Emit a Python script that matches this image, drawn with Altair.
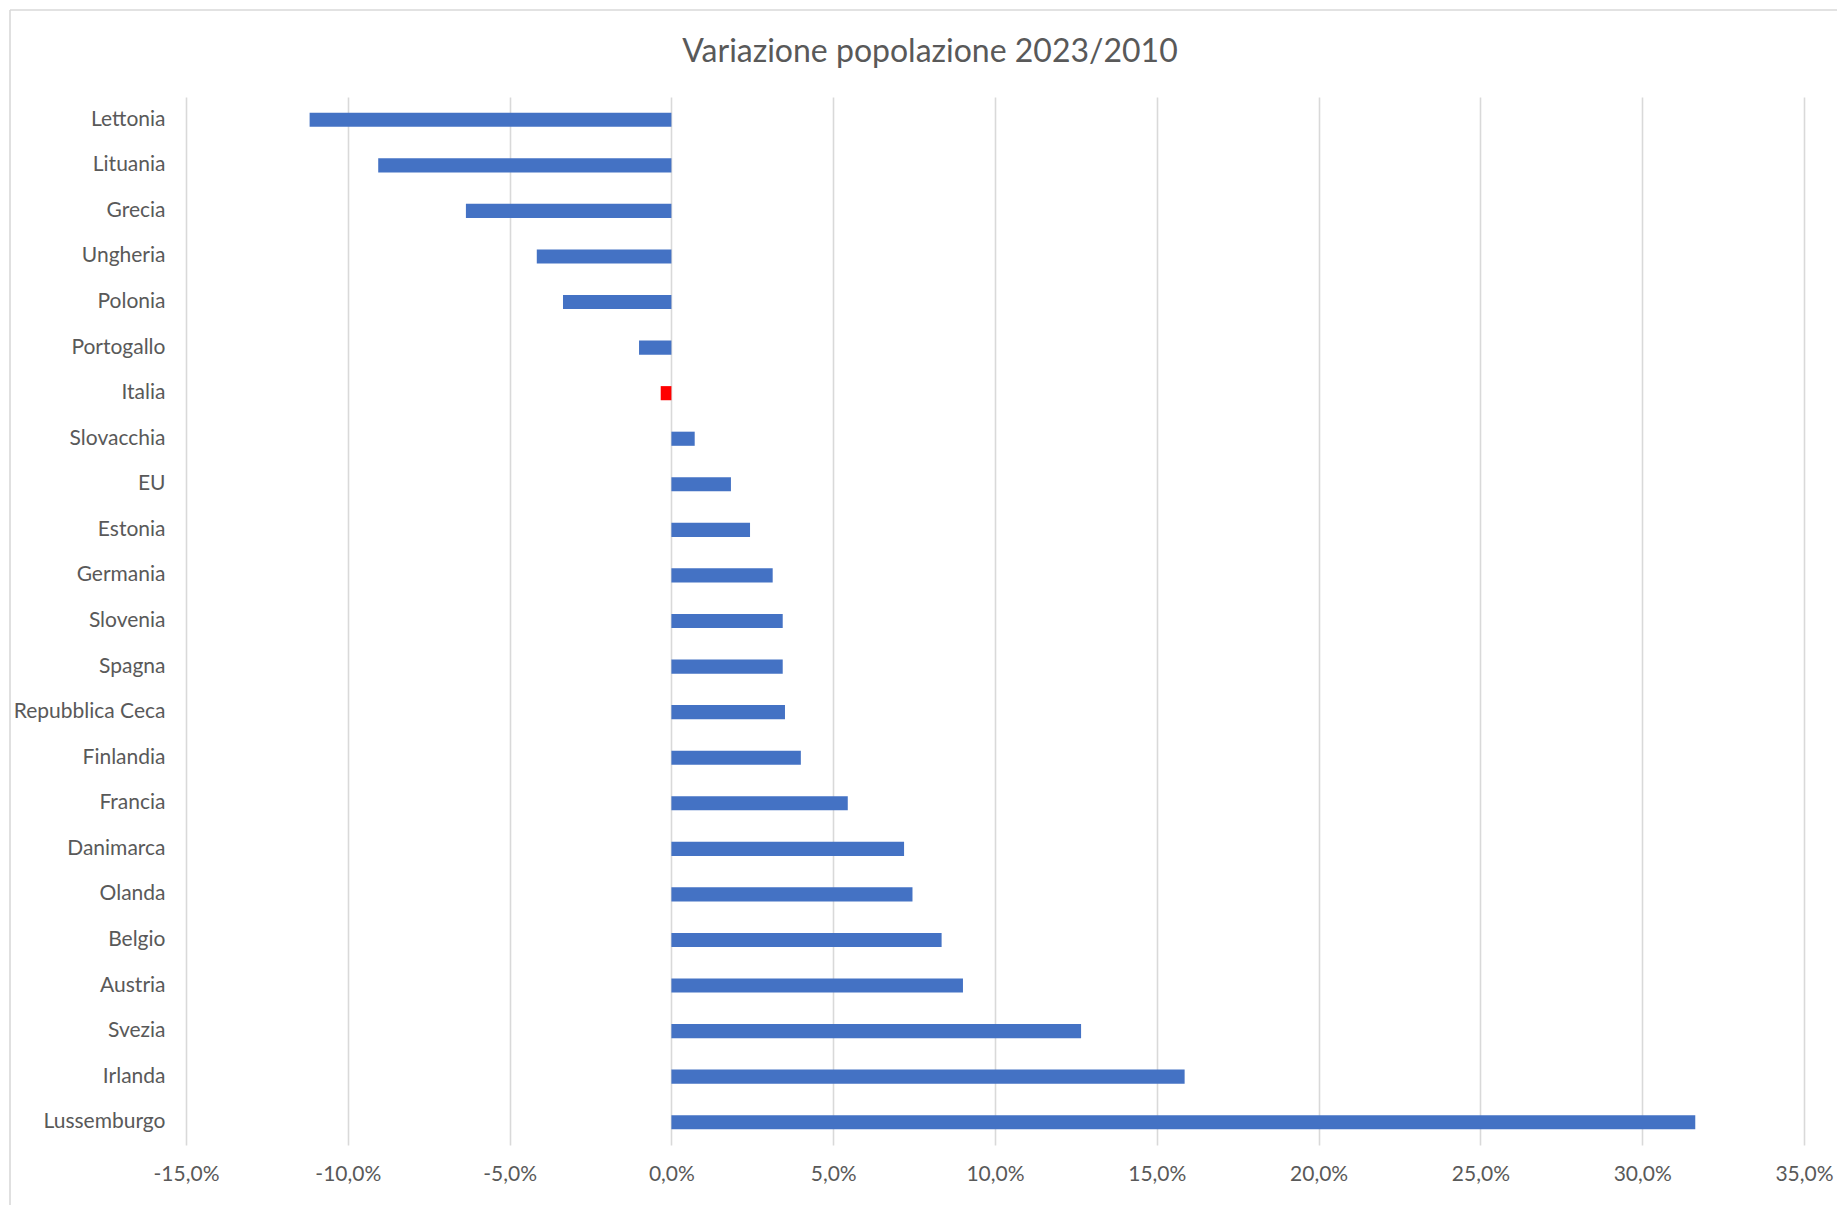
import altair as alt
import pandas as pd

# Variazione percentuale della popolazione 2023 rispetto al 2010
paesi = [
    "Lettonia", "Lituania", "Grecia", "Ungheria", "Polonia", "Portogallo",
    "Italia", "Slovacchia", "EU", "Estonia", "Germania", "Slovenia", "Spagna",
    "Repubblica Ceca", "Finlandia", "Francia", "Danimarca", "Olanda", "Belgio",
    "Austria", "Svezia", "Irlanda", "Lussemburgo",
]
variazione_pct = [
    -11.18, -9.06, -6.35, -4.16, -3.35, -1.00,
    -0.33, 0.72, 1.84, 2.43, 3.13, 3.44, 3.44,
    3.51, 4.00, 5.45, 7.19, 7.45, 8.35,
    9.01, 12.66, 15.86, 31.64,
]
tick_valori = [-0.15, -0.10, -0.05, 0.0, 0.05, 0.10, 0.15, 0.20, 0.25, 0.30, 0.35]
titolo = "Variazione popolazione 2023/2010"

df = pd.DataFrame({"paese": paesi, "variazione": [v / 100 for v in variazione_pct]})

FONT = "Lato"
GREY_TEXT = "#595959"
GRID = "#d9d9d9"

W, H = 1618, 1048
PAD_L, PAD_T, PAD_R, PAD_B = 186, 97, 33, 60

barre = (
    alt.Chart(df)
    .mark_bar()
    .encode(
        y=alt.Y(
            "paese:N",
            sort=paesi,
            scale=alt.Scale(paddingInner=0.69, paddingOuter=0.345),
            axis=alt.Axis(
                title=None,
                ticks=False,
                domain=False,
                grid=False,
                labelFont=FONT,
                labelFontSize=21,
                labelColor=GREY_TEXT,
                labelPadding=21,
            ),
        ),
        x=alt.X(
            "variazione:Q",
            scale=alt.Scale(domain=[-0.15, 0.35], nice=False, zero=False),
            axis=alt.Axis(
                title=None,
                values=tick_valori,
                labelExpr="replace(replace(format(datum.value, '.1%'), '.', ','), '\u2212', '-')",
                labelFlush=False,
                ticks=False,
                domain=False,
                grid=True,
                gridColor=GRID,
                gridWidth=1.6,
                labelFont=FONT,
                labelFontSize=21,
                labelColor=GREY_TEXT,
                labelPadding=18,
            ),
        ),
        color=alt.condition(
            alt.datum.paese == "Italia", alt.value("#FF0000"), alt.value("#4472C4")
        ),
    )
)

unica = alt.Data(values=[{}])

# titolo del grafico, centrato sull'area del grafico
testo_titolo = alt.Chart(unica).mark_text(
    text=titolo,
    font=FONT,
    fontSize=32,
    color=GREY_TEXT,
    align="center",
    baseline="alphabetic",
).encode(x=alt.value(930 - PAD_L), y=alt.value(62 - PAD_T))

# cornice dell'area del grafico (bordo superiore e sinistro)
bordo_alto = alt.Chart(unica).mark_rule(color=GRID, strokeWidth=1.6).encode(
    x=alt.value(10 - PAD_L), x2=alt.value(1837 - PAD_L + 20), y=alt.value(10 - PAD_T)
)
bordo_sx = alt.Chart(unica).mark_rule(color=GRID, strokeWidth=1.6).encode(
    x=alt.value(10 - PAD_L), y=alt.value(10 - PAD_T), y2=alt.value(1205 - PAD_T + 20)
)

chart = (
    alt.layer(barre, testo_titolo, bordo_alto, bordo_sx)
    .properties(
        width=W,
        height=H,
        padding={"left": PAD_L, "top": PAD_T, "right": PAD_R, "bottom": PAD_B},
        autosize=alt.AutoSizeParams(type="none"),
    )
    .configure(background="white")
    .configure_view(stroke=None)
)

chart.save("out.html", embed_options={"renderer": "svg", "actions": False})
